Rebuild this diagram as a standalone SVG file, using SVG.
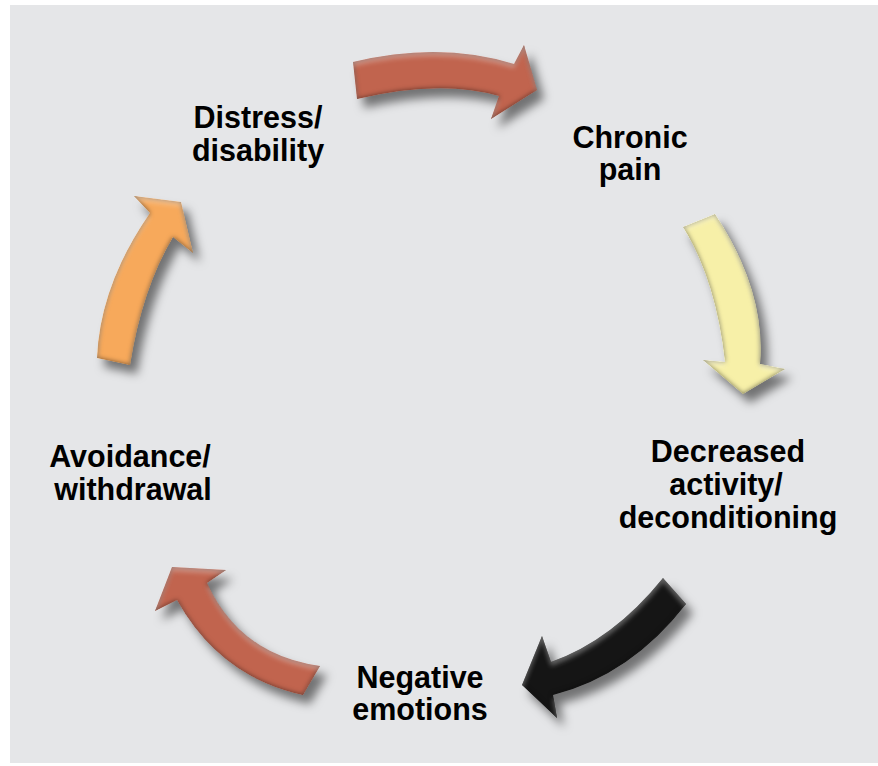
<svg xmlns="http://www.w3.org/2000/svg" width="878" height="766" viewBox="0 0 878 766">
<defs>
<style>
.lbl{font-family:"Liberation Sans",Arial,Helvetica,sans-serif;font-weight:bold;font-size:30.5px;fill:#000;text-anchor:middle}
.red{fill:#c1644e}
.yel{fill:#f7f0a8}
.blk{fill:#151515}
.org{fill:#f7a95b}
</style>
<filter id="arrowfx" x="-30%" y="-30%" width="170%" height="170%" color-interpolation-filters="sRGB">
<feGaussianBlur in="SourceAlpha" stdDeviation="5" result="sb"/>
<feOffset in="sb" dx="7" dy="9" result="so"/>
<feFlood flood-color="#000" flood-opacity="0.5"/>
<feComposite in2="so" operator="in" result="shadow"/>
<feGaussianBlur in="SourceAlpha" stdDeviation="2.5" result="eb"/>
<feComposite in="SourceAlpha" in2="eb" operator="arithmetic" k2="1" k3="-1" result="edge"/>
<feFlood flood-color="#000" flood-opacity="0.55"/>
<feComposite in2="edge" operator="in" result="dark"/>
<feOffset in="eb" dx="0" dy="4" result="ebo"/>
<feComposite in="SourceAlpha" in2="ebo" operator="arithmetic" k2="1" k3="-1" result="topedge"/>
<feFlood flood-color="#fff" flood-opacity="0.35"/>
<feComposite in2="topedge" operator="in" result="light"/>
<feMerge>
<feMergeNode in="shadow"/>
<feMergeNode in="SourceGraphic"/>
<feMergeNode in="dark"/>
<feMergeNode in="light"/>
</feMerge>
</filter>
</defs>
<rect x="10" y="5" width="868" height="758" fill="#e5e6e8"/>
<g id="connectors">
<path id="arrow-pain" class="red" filter="url(#arrowfx)" d="M353,62 Q440,41 514,64 L524,45 L537,90 L491,119 L499,96 Q440,79 357,99 Z"/>
<path id="arrow-decreased" class="yel" filter="url(#arrowfx)" d="M683,227 L715,214 Q766,291 760,364 L785,369 L743,394 L703,360 L725,362 Q716,280 683,227 Z"/>
<path id="arrow-negative" class="blk" filter="url(#arrowfx)" d="M663,578 L686,604 Q631,675 553,695 L557,718 L522,685 L542,636 L551,662 Q613,640 663,578 Z"/>
<path id="arrow-avoidance" class="red" filter="url(#arrowfx)" d="M320,666 L303,695 Q220,677 177,600 L155,611 L172,567 L226,570 L207,583 Q240,655 320,666 Z"/>
<path id="arrow-distress" class="org" filter="url(#arrowfx)" d="M97,358 Q100,285 150,213 L134,196 L181,202 L193,253 L173,237 Q142,289 130,365 Z"/>
</g>
<g id="node-distress"><text class="lbl" x="258" y="128">Distress/</text><text class="lbl" x="258" y="161">disability</text></g>
<g id="node-chronic"><text class="lbl" x="630" y="148">Chronic</text><text class="lbl" x="630" y="180">pain</text></g>
<g id="node-decreased"><text class="lbl" x="728" y="462">Decreased</text><text class="lbl" x="726" y="495">activity/</text><text class="lbl" x="728" y="528">deconditioning</text></g>
<g id="node-negative"><text class="lbl" x="420" y="688">Negative</text><text class="lbl" x="420" y="720">emotions</text></g>
<g id="node-avoidance"><text class="lbl" x="130" y="467">Avoidance/</text><text class="lbl" x="133" y="500">withdrawal</text></g>
</svg>
